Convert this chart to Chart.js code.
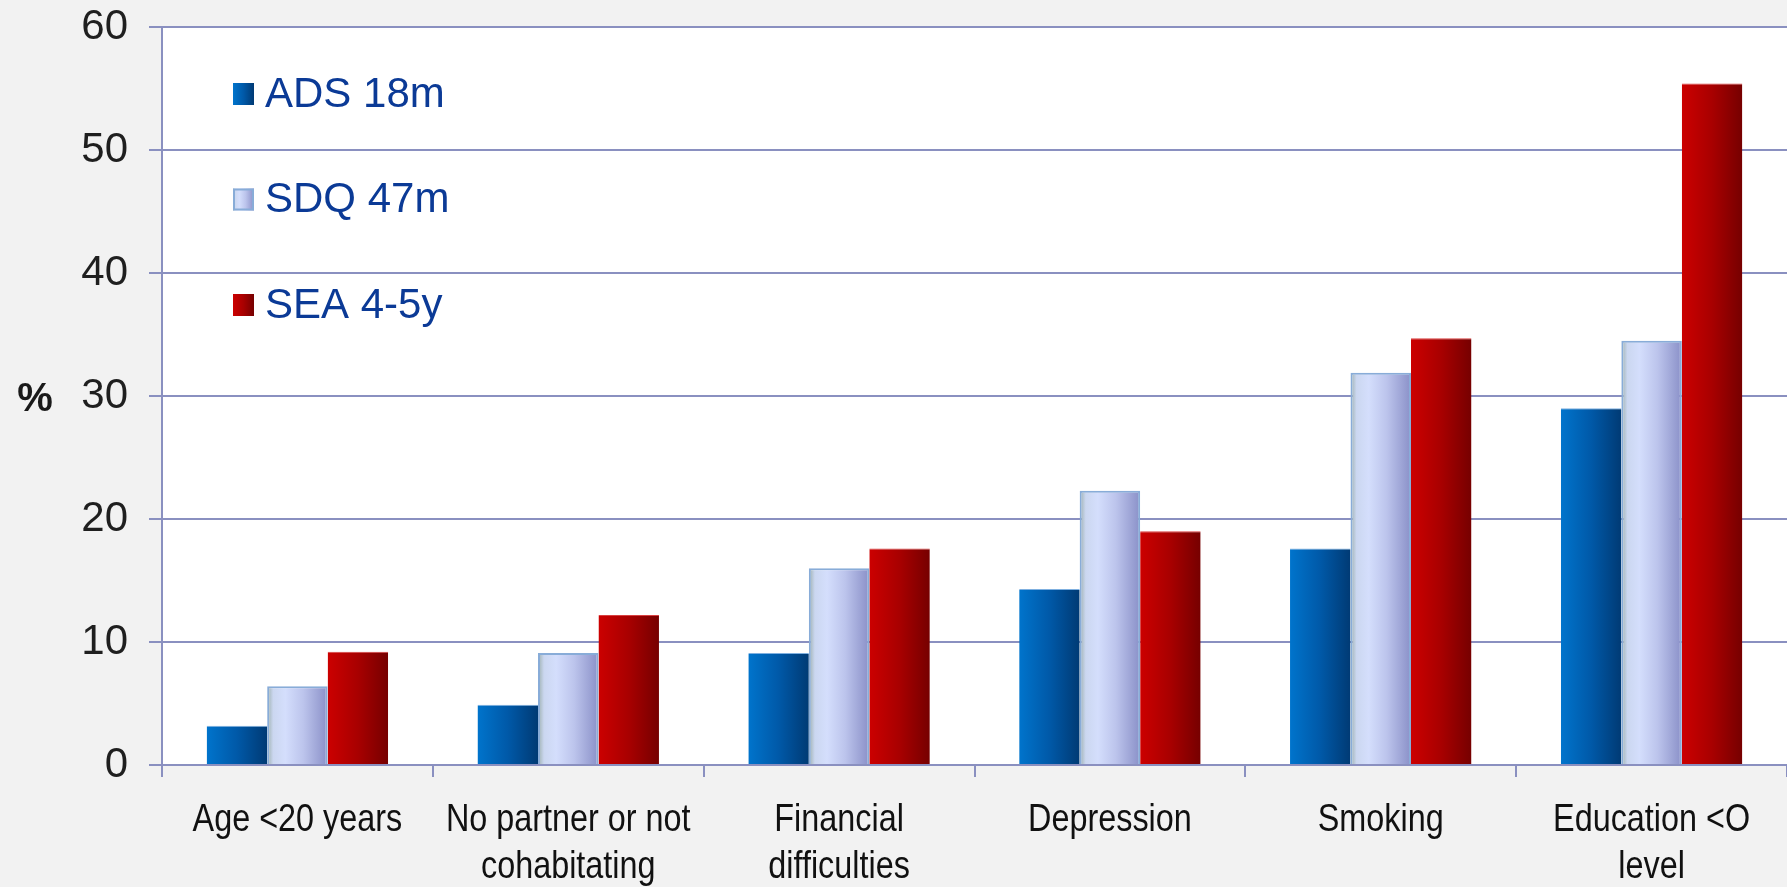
<!DOCTYPE html>
<html lang="en">
<head>
<meta charset="utf-8">
<title>Risk factors</title>
<script src="https://cdn.jsdelivr.net/npm/chart.js@4.4.1/dist/chart.umd.min.js"></script>
<style>
  html, body { margin: 0; padding: 0; background: #f2f2f2; }
  canvas { display: block; }
</style>
</head>
<body>
<canvas id="grafico" width="1787" height="887"></canvas>
<script>
// Categorías (en varias líneas) y valores en %
const categorias = [
  ['Age <20 years'],
  ['No partner or not', 'cohabitating'],
  ['Financial', 'difficulties'],
  ['Depression'],
  ['Smoking'],
  ['Education <O', 'level']
];
const nombresSeries = ['ADS 18m', 'SDQ 47m', 'SEA 4-5y'];
const valoresAds18m = [3.2, 4.9, 9.1, 14.3, 17.6, 29.0];
const valoresSdq47m = [6.4, 9.1, 16.0, 22.3, 31.9, 34.5];
const valoresSea45y = [9.2, 12.2, 17.6, 19.0, 34.7, 55.4];
const ticksY = [0, 10, 20, 30, 40, 50, 60];

// Degradados horizontales de cada serie
const degradados = [
  [[0, '#0074cc'], [0.5, '#0059a8'], [1, '#003a74']],
  [[0, '#9db0ae'], [0.1, '#cbd7f0'], [0.3, '#d4defc'], [0.6, '#bcc4ec'], [1, '#8a90c8']],
  [[0, '#cc0000'], [0.5, '#a80000'], [1, '#760000']]
];
const bordes = ['#7fb0e0', '#88acd8', '#d84040'];
const colorRejilla = '#8a90c0';
const fuenteEjeX = '39px "Liberation Sans", Arial, sans-serif';

(function(){
  const crearDegradado = (ctx, x0, x1, paradas) => {
    const g = ctx.createLinearGradient(x0, 0, x1, 0);
    paradas.forEach(([p, c]) => g.addColorStop(p, c));
    return g;
  };

  // Fondo gris de la página y blanco en el área de trazado
  const fondo = {
    id: 'fondo',
    beforeDraw(chart) {
      const { ctx, chartArea: a } = chart;
      ctx.save();
      ctx.fillStyle = '#f2f2f2';
      ctx.fillRect(0, 0, chart.width, chart.height);
      ctx.fillStyle = '#ffffff';
      ctx.fillRect(a.left, a.top, a.right - a.left, a.bottom - a.top);
      ctx.restore();
    }
  };

  // Aplica el degradado a cada barra según su posición
  const barrasDegradadas = {
    id: 'barrasDegradadas',
    beforeDatasetsDraw(chart) {
      const { ctx } = chart;
      chart.data.datasets.forEach((ds, i) => {
        chart.getDatasetMeta(i).data.forEach((barra) => {
          const g = crearDegradado(ctx, barra.x - barra.width / 2, barra.x + barra.width / 2, degradados[i]);
          barra.options = Object.assign({}, barra.options, { backgroundColor: g });
        });
      });
    }
  };

  // Leyenda dentro del área de trazado, arriba a la izquierda
  const leyendaInterna = {
    id: 'leyendaInterna',
    afterDatasetsDraw(chart) {
      const { ctx, chartArea: a } = chart;
      ctx.save();
      chart.data.datasets.forEach((ds, i) => {
        const yc = a.top + 67 + i * 105.5;
        const x = a.left + 71;
        ctx.fillStyle = crearDegradado(ctx, x, x + 21, degradados[i]);
        ctx.fillRect(x, yc - 11, 21, 22);
        if (i === 1) {
          ctx.strokeStyle = bordes[1];
          ctx.lineWidth = 2;
          ctx.strokeRect(x + 1, yc - 10, 19, 20);
        }
        ctx.fillStyle = '#0b3a96';
        ctx.font = '42px "Liberation Sans", Arial, sans-serif';
        ctx.textBaseline = 'middle';
        ctx.textAlign = 'left';
        ctx.fillText(ds.label, x + 32, yc + 1);
      });
      ctx.restore();
    }
  };

  // Etiquetas del eje X en letra estrecha (comprimida en horizontal)
  const etiquetasEstrechas = {
    id: 'etiquetasEstrechas',
    afterDraw(chart) {
      const { ctx } = chart;
      const escala = chart.scales.x;
      const compresion = 0.83;
      ctx.save();
      ctx.fillStyle = '#111111';
      ctx.font = fuenteEjeX;
      ctx.textAlign = 'center';
      ctx.textBaseline = 'middle';
      chart.data.labels.forEach((lineas, i) => {
        const x = escala.getPixelForTick(i);
        lineas.forEach((linea, j) => {
          ctx.save();
          ctx.translate(x, escala.top + 55 + j * 47);
          ctx.scale(compresion, 1);
          ctx.fillText(linea, 0, 0);
          ctx.restore();
        });
      });
      ctx.restore();
    }
  };

  // Símbolo "%" horizontal junto al eje Y
  const unidadY = {
    id: 'unidadY',
    afterDraw(chart) {
      const { ctx } = chart;
      const y = chart.scales.y.getPixelForValue(30);
      ctx.save();
      ctx.fillStyle = '#1a1a1a';
      ctx.font = 'bold 40px "Liberation Sans", Arial, sans-serif';
      ctx.textAlign = 'center';
      ctx.textBaseline = 'middle';
      ctx.fillText('%', 35, y + 4);
      ctx.restore();
    }
  };

  const valores = [valoresAds18m, valoresSdq47m, valoresSea45y];

  const inicializar = () => {
    const canvas = document.getElementById('grafico');
    if (typeof Chart === 'undefined' || !canvas) return;
    const contexto = canvas.getContext('2d');

    return new Chart(contexto, {
      type: 'bar',
      data: {
        labels: categorias,
        datasets: nombresSeries.map((nombre, i) => ({
          label: nombre,
          data: valores[i],
          backgroundColor: degradados[i][0][1],
          borderColor: bordes[i],
          borderWidth: i === 1 ? 2 : { top: 1, left: 0, right: 0, bottom: 0 },
          borderSkipped: 'bottom',
          barPercentage: 1,
          categoryPercentage: 0.67
        }))
      },
      options: {
        responsive: false,
        animation: false,
        layout: { padding: { top: 27, right: 0, left: 0, bottom: 0 } },
        plugins: {
          legend: { display: false },
          tooltip: { enabled: false }
        },
        scales: {
          x: {
            offset: true,
            grid: {
              offset: true,
              drawOnChartArea: false,
              drawTicks: true,
              tickLength: 12,
              color: colorRejilla,
              lineWidth: 2
            },
            border: { display: true, color: colorRejilla, width: 2 },
            ticks: { display: false },
            afterFit: (escala) => {
              escala.height = 122;
              escala.paddingLeft = 0;
              escala.paddingRight = 0;
            }
          },
          y: {
            min: 0,
            max: 60,
            afterBuildTicks: (escala) => { escala.ticks = ticksY.map(v => ({ value: v })); },
            grid: {
              color: colorRejilla,
              lineWidth: 2,
              tickLength: 13
            },
            border: { display: true, color: colorRejilla, width: 2 },
            ticks: {
              color: '#1f1f1f',
              padding: 21,
              font: { family: '"Liberation Sans", Arial, sans-serif', size: 42 }
            },
            afterFit: (escala) => {
              escala.width = 162;
              escala.paddingTop = 0;
              escala.paddingBottom = 0;
            }
          }
        }
      },
      plugins: [fondo, barrasDegradadas, leyendaInterna, etiquetasEstrechas, unidadY]
    });
  };

  if (document.readyState === 'loading') {
    document.addEventListener('DOMContentLoaded', inicializar);
  } else {
    inicializar();
  }
})();
</script>
</body>
</html>
